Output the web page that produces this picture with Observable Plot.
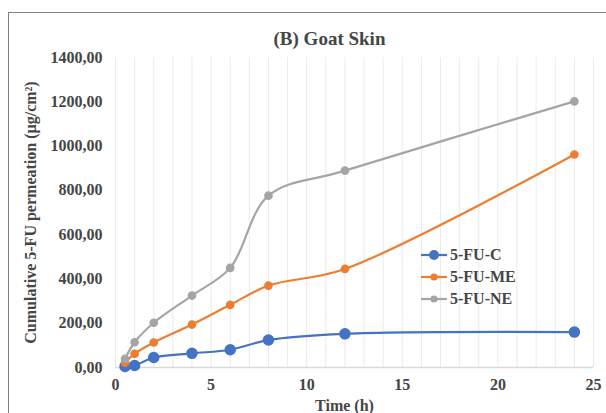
<!DOCTYPE html>
<html>
<head>
<meta charset="utf-8">
<script src="https://cdn.jsdelivr.net/npm/d3@7"></script>
<script src="https://cdn.jsdelivr.net/npm/@observablehq/plot@0.6"></script>
<style>
  html, body { margin: 0; padding: 0; background: #fff; overflow: hidden; }
  #wrap { position: relative; width: 606px; height: 413px; overflow: hidden; font-family: "Liberation Serif", "Times New Roman", serif; }
  #wrap svg text { font-family: "Liberation Serif", "Times New Roman", serif; }
  #frame { position: absolute; left: 8px; top: 12px; width: 700px; height: 500px; border: 1.5px solid #808080; box-sizing: border-box; pointer-events: none; }
  #legend { position: absolute; left: 420px; top: 244px; font: bold 16px "Liberation Serif", serif; color: #454545; }
  #legend .row { display: flex; align-items: center; height: 22px; }
  #legend svg { margin-right: 2px; }
</style>
</head>
<body>
<div id="wrap"><div id="frame"></div><div id="legend"></div></div>
<script>
const times = [0.5, 1, 2, 4, 6, 8, 12, 24];
const seriesNames = ["5-FU-C", "5-FU-ME", "5-FU-NE"];
const valuesC  = [5, 9, 45, 64, 80, 124, 152, 160];
const valuesME = [22, 62, 113, 194, 283, 370, 445, 962];
const valuesNE = [39, 114, 202, 325, 450, 776, 889, 1202];
const colors = ["#4472C4", "#ED7D31", "#A5A5A5"];
const markerR = [5, 3.6, 3.6];
const xTicks = [0, 5, 10, 15, 20, 25];
const yTicks = [0, 200, 400, 600, 800, 1000, 1200, 1400];
const gridX = d3.range(0, 26);

const allValues = [valuesC, valuesME, valuesNE];
const data = [];
seriesNames.forEach((s, i) => times.forEach((t, j) => data.push({series: s, time: t, value: allValues[i][j]})));

const font = "'Liberation Serif', 'Times New Roman', serif";
const textColor = "#454545";

const marks = [
  Plot.ruleX(gridX, {stroke: "#ebebeb", strokeWidth: 1}),
  Plot.ruleY([0], {stroke: "#d9d9d9", strokeWidth: 1.5}),
  Plot.axisY({ticks: yTicks, tickSize: 0, tickPadding: 13, tickFormat: d => d.toFixed(2).replace(".", ","), label: null, fontSize: 16, fontWeight: "bold", fontFamily: font, fill: textColor}),
  Plot.axisX({ticks: xTicks, tickSize: 0, tickPadding: 11, label: null, fontSize: 16, fontWeight: "bold", fontFamily: font, fill: textColor}),
];
seriesNames.forEach((s, i) => {
  const d = data.filter(r => r.series === s);
  marks.push(Plot.line(d, {x: "time", y: "value", stroke: colors[i], strokeWidth: 2.2, curve: "catmull-rom"}));
  marks.push(Plot.dot(d, {x: "time", y: "value", r: markerR[i], fill: colors[i], stroke: colors[i]}));
});
marks.push(
  Plot.text(["(B) Goat Skin"], {frameAnchor: "top", dx: -25, dy: -19, lineAnchor: "middle", fontSize: 19, fontWeight: "bold", fontFamily: font, fill: textColor}),
  Plot.text(["Cumulative 5-FU permeation (µg/cm²)"], {frameAnchor: "left", dx: -85, rotate: -90, textAnchor: "middle", lineAnchor: "middle", fontSize: 16, fontWeight: "bold", fontFamily: font, fill: textColor}),
  Plot.text(["Time (h)"], {frameAnchor: "bottom", dx: -10, dy: 38, lineAnchor: "middle", fontSize: 16, fontWeight: "bold", fontFamily: font, fill: textColor})
);

const chart = Plot.plot({
  width: 606,
  height: 413,
  marginLeft: 115,
  marginRight: 13,
  marginTop: 57,
  marginBottom: 46,
  style: {fontFamily: font, background: "transparent", overflow: "visible"},
  x: {domain: [0, 25]},
  y: {domain: [0, 1400]},
  marks
});
chart.style.position = "absolute";
chart.style.left = "0px";
chart.style.top = "0px";
const wrap = document.getElementById("wrap");
wrap.insertBefore(chart, wrap.firstChild);

const legend = document.getElementById("legend");
seriesNames.forEach((s, i) => {
  const row = document.createElement("div");
  row.className = "row";
  row.innerHTML = `<svg width="28" height="12"><line x1="1" x2="27" y1="6" y2="6" stroke="${colors[i]}" stroke-width="2.2"/><circle cx="14" cy="6" r="${markerR[i]}" fill="${colors[i]}"/></svg><span>${s}</span>`;
  legend.appendChild(row);
});
</script>
</body>
</html>
